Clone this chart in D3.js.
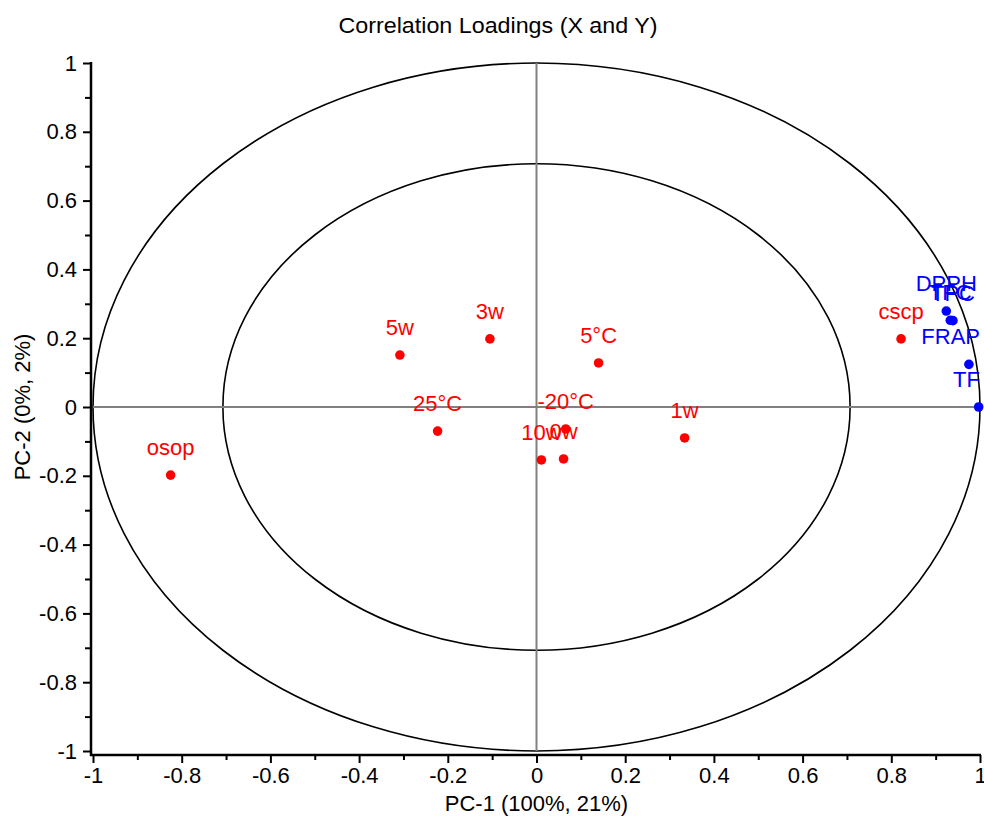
<!DOCTYPE html>
<html>
<head>
<meta charset="utf-8">
<script src="https://cdn.jsdelivr.net/npm/d3@7"></script>
<style>
  body { margin: 0; background: #fff; }
  text { font-family: "Liberation Sans", Arial, sans-serif; }
</style>
</head>
<body>
<div id="chart"></div>
<script>
// X variables (red)
var xNames = ["osop", "5w", "3w", "5°C", "25°C", "-20°C", "10w", "0w", "1w", "cscp"];
var xPC1 = [-0.825, -0.308, -0.105, 0.140, -0.223, 0.066, 0.011, 0.061, 0.334, 0.822];
var xPC2 = [-0.198, 0.151, 0.198, 0.128, -0.070, -0.064, -0.154, -0.151, -0.090, 0.198];

// Y variables (blue)
var yNames = ["DPPH", "TFC", "TPC", "FRAP", "TF"];
var yPC1 = [0.924, 0.933, 0.939, 0.975, 0.997];
var yPC2 = [0.279, 0.252, 0.251, 0.124, 0.000];

var majorTicks = [-1, -0.8, -0.6, -0.4, -0.2, 0, 0.2, 0.4, 0.6, 0.8, 1];
var minorTicks = [-0.9, -0.7, -0.5, -0.3, -0.1, 0.1, 0.3, 0.5, 0.7, 0.9];

var W = 984, H = 816;
var margin = {top: 63, right: 4, bottom: 65, left: 93};
var FS = "22px";

var svg = d3.select("#chart")
    .append("svg")
        .attr("width", W)
        .attr("height", H);

var x = d3.scaleLinear().domain([-1, 1]).range([margin.left, W - margin.right]);
var y = d3.scaleLinear().domain([-1, 1]).range([H - margin.bottom, margin.top]);

var axisX = 91, axisY = 755;

// title
svg.append("text")
    .attr("x", 498).attr("y", 33)
    .attr("text-anchor", "middle")
    .style("font-size", "22px")
    .attr("textLength", 319)
    .attr("lengthAdjust", "spacingAndGlyphs")
    .text("Correlation Loadings (X and Y)");

// circles (r = 1 and r = sqrt(0.5))
[1, Math.sqrt(0.5)].forEach(function(r) {
    svg.append("ellipse")
        .attr("cx", x(0)).attr("cy", y(0))
        .attr("rx", x(r) - x(0))
        .attr("ry", y(0) - y(r))
        .attr("fill", "none")
        .attr("stroke", "#000")
        .attr("stroke-width", 1.6);
});

// zero lines
svg.append("line")
    .attr("x1", x(-1)).attr("x2", x(1))
    .attr("y1", y(0)).attr("y2", y(0))
    .attr("stroke", "#808080").attr("stroke-width", 2);
svg.append("line")
    .attr("x1", x(0)).attr("x2", x(0))
    .attr("y1", y(-1)).attr("y2", y(1))
    .attr("stroke", "#808080").attr("stroke-width", 2);

// axes
var fmt = function(d) { return String(+d.toFixed(1)); };

var gy = svg.append("g").attr("transform", "translate(" + axisX + ",0)");
gy.call(d3.axisLeft(y).tickValues(majorTicks).tickSize(8).tickPadding(6).tickFormat(fmt));
var gy2 = svg.append("g").attr("transform", "translate(" + axisX + ",0)");
gy2.call(d3.axisLeft(y).tickValues(minorTicks).tickSize(6).tickFormat(""));

var gx = svg.append("g").attr("transform", "translate(0," + axisY + ")");
gx.call(d3.axisBottom(x).tickValues(majorTicks).tickSize(8).tickPadding(4).tickFormat(fmt));
var gx2 = svg.append("g").attr("transform", "translate(0," + axisY + ")");
gx2.call(d3.axisBottom(x).tickValues(minorTicks).tickSize(5).tickFormat(""));

svg.selectAll(".domain").remove();
svg.selectAll(".tick line").attr("stroke", "#000").attr("stroke-width", 2);
svg.selectAll(".tick text")
    .attr("fill", "#000")
    .style("font-family", '"Liberation Sans", Arial, sans-serif')
    .style("font-size", FS);

svg.append("line")
    .attr("x1", axisX).attr("x2", axisX)
    .attr("y1", y(1) - 1).attr("y2", axisY + 1)
    .attr("stroke", "#000").attr("stroke-width", 2.5);
svg.append("line")
    .attr("x1", axisX - 1).attr("x2", x(1) + 1)
    .attr("y1", axisY).attr("y2", axisY)
    .attr("stroke", "#000").attr("stroke-width", 2.5);

// axis titles
svg.append("text")
    .attr("x", x(0)).attr("y", 811)
    .attr("text-anchor", "middle")
    .style("font-size", FS)
    .text("PC-1 (100%, 21%)");
svg.append("text")
    .attr("transform", "translate(30," + y(0) + ") rotate(-90)")
    .attr("text-anchor", "middle")
    .style("font-size", FS)
    .text("PC-2 (0%, 2%)");

// points + labels
function drawSet(names, px, py, color) {
    var data = names.map(function(n, i) { return {name: n, a: px[i], b: py[i]}; });
    svg.selectAll(null)
        .data(data)
        .enter()
        .append("circle")
        .attr("cx", d => x(d.a))
        .attr("cy", d => y(d.b))
        .attr("r", 4.8)
        .attr("fill", color);
    svg.selectAll(null)
        .data(data)
        .enter()
        .append("text")
        .attr("y", d => y(d.b) - 20)
        .attr("fill", color)
        .style("font-size", FS)
        .text(d => d.name)
        .each(function(d) {
            var w = this.getComputedTextLength();
            var cx = Math.min(x(d.a), x(1) - w / 2);
            d3.select(this).attr("x", cx - w / 2);
        });
}

drawSet(xNames, xPC1, xPC2, "#ff0000");
drawSet(yNames, yPC1, yPC2, "#0000ff");
</script>
</body>
</html>
